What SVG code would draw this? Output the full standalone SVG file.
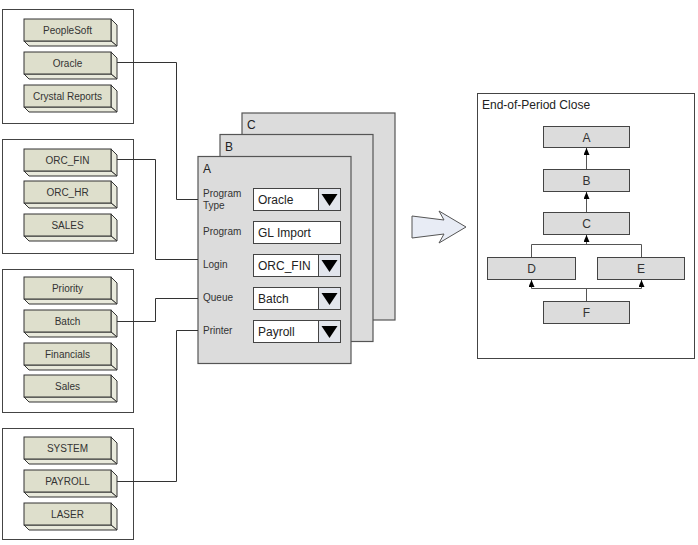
<svg xmlns="http://www.w3.org/2000/svg" width="698" height="545" viewBox="0 0 698 545">
<style>
  .grp{fill:#fff;stroke:#444;stroke-width:1}
  .face{fill:#dedfcc;stroke:#333;stroke-width:1}
  .side{fill:#e9eadc;stroke:#333;stroke-width:1;stroke-linejoin:round}
  .bt{font-family:"Liberation Sans",Arial,sans-serif;font-size:10px;fill:#333;text-anchor:middle}
  .panel{fill:#dcdcdc;stroke:#555;stroke-width:1.2}
  .pl{font-family:"Liberation Sans",Arial,sans-serif;font-size:12px;fill:#222}
  .lab{font-family:"Liberation Sans",Arial,sans-serif;font-size:10px;fill:#333}
  .fld{fill:#fff;stroke:#444;stroke-width:1}
  .dd{fill:#e2e5ec;stroke:#444;stroke-width:1}
  .ft{font-family:"Liberation Sans",Arial,sans-serif;font-size:12px;fill:#222}
  .conn{fill:none;stroke:#333;stroke-width:1}
  .fbox{fill:#dcdcdc;stroke:#444;stroke-width:1}
  .fl{fill:none;stroke:#555;stroke-width:1}
  .ftxt{font-family:"Liberation Sans",Arial,sans-serif;font-size:12px;fill:#333;text-anchor:middle}
</style>
<defs>
  <g id="btn">
    <polygon class="side" points="87,0 93,6 93,27 87,22"/>
    <polygon class="side" points="0,22 87,22 93,27 5,27"/>
    <rect class="face" x="0" y="0" width="87" height="22"/>
  </g>
  <polygon id="tri" points="0,0 16,0 8,12" fill="#000"/>
  <marker id="ah" markerWidth="7" markerHeight="6" refX="7" refY="3" orient="auto" markerUnits="userSpaceOnUse" viewBox="0 0 7 6">
    <path d="M0,0 L7,3 L0,6 Z" fill="#000"/>
  </marker>
</defs>

<!-- Group 1 -->
<g id="group-apps">
  <rect class="grp" x="2.5" y="9.5" width="131" height="114"/>
  <g id="peoplesoft"><use href="#btn" x="24" y="19"/><text class="bt" x="67.5" y="34">PeopleSoft</text></g>
  <g id="oracle"><use href="#btn" x="24" y="52"/><text class="bt" x="67.5" y="67">Oracle</text></g>
  <g id="crystal"><use href="#btn" x="24" y="85"/><text class="bt" x="67.5" y="100">Crystal Reports</text></g>
</g>

<!-- Group 2 -->
<g id="group-logins">
  <rect class="grp" x="2.5" y="139.5" width="131" height="114"/>
  <g id="orc-fin"><use href="#btn" x="24" y="149"/><text class="bt" x="67.5" y="164">ORC_FIN</text></g>
  <g id="orc-hr"><use href="#btn" x="24" y="181"/><text class="bt" x="67.5" y="196">ORC_HR</text></g>
  <g id="sales-login"><use href="#btn" x="24" y="214"/><text class="bt" x="67.5" y="229">SALES</text></g>
</g>

<!-- Group 3 -->
<g id="group-queues">
  <rect class="grp" x="2.5" y="269.5" width="131" height="143"/>
  <g id="priority"><use href="#btn" x="24" y="277"/><text class="bt" x="67.5" y="292">Priority</text></g>
  <g id="batch"><use href="#btn" x="24" y="310"/><text class="bt" x="67.5" y="325">Batch</text></g>
  <g id="financials"><use href="#btn" x="24" y="343"/><text class="bt" x="67.5" y="358">Financials</text></g>
  <g id="sales-queue"><use href="#btn" x="24" y="375"/><text class="bt" x="67.5" y="390">Sales</text></g>
</g>

<!-- Group 4 -->
<g id="group-printers">
  <rect class="grp" x="2.5" y="428.5" width="131" height="111"/>
  <g id="system"><use href="#btn" x="24" y="437"/><text class="bt" x="67.5" y="452">SYSTEM</text></g>
  <g id="payroll"><use href="#btn" x="24" y="470"/><text class="bt" x="67.5" y="485">PAYROLL</text></g>
  <g id="laser"><use href="#btn" x="24" y="503"/><text class="bt" x="67.5" y="518">LASER</text></g>
</g>

<!-- Panels -->
<g id="panel-c">
  <rect class="panel" x="242" y="113" width="153" height="207"/>
  <text class="pl" x="247" y="129">C</text>
</g>
<g id="panel-b">
  <rect class="panel" x="220" y="134.5" width="153" height="207"/>
  <text class="pl" x="225" y="151">B</text>
</g>
<g id="panel-a">
  <rect class="panel" x="198" y="156.5" width="153" height="207"/>
  <text class="pl" x="203" y="173">A</text>
  <text class="lab" x="203" y="197">Program</text>
  <text class="lab" x="203" y="209">Type</text>
  <rect class="fld" x="253.5" y="188.5" width="87" height="22"/>
  <rect class="dd" x="318.5" y="188.5" width="22" height="22"/>
  <use href="#tri" x="321.5" y="194"/>
  <text class="ft" x="258" y="204">Oracle</text>

  <text class="lab" x="203" y="235">Program</text>
  <rect class="fld" x="253.5" y="221.5" width="87" height="22"/>
  <text class="ft" x="258" y="237">GL Import</text>

  <text class="lab" x="203" y="268">Login</text>
  <rect class="fld" x="253.5" y="254.5" width="87" height="22"/>
  <rect class="dd" x="318.5" y="254.5" width="22" height="22"/>
  <use href="#tri" x="321.5" y="260"/>
  <text class="ft" x="258" y="270">ORC_FIN</text>

  <text class="lab" x="203" y="301">Queue</text>
  <rect class="fld" x="253.5" y="287.5" width="87" height="22"/>
  <rect class="dd" x="318.5" y="287.5" width="22" height="22"/>
  <use href="#tri" x="321.5" y="293"/>
  <text class="ft" x="258" y="303">Batch</text>

  <text class="lab" x="203" y="334">Printer</text>
  <rect class="fld" x="253.5" y="320.5" width="87" height="22"/>
  <rect class="dd" x="318.5" y="320.5" width="22" height="22"/>
  <use href="#tri" x="321.5" y="326"/>
  <text class="ft" x="258" y="336">Payroll</text>
</g>

<!-- Connectors -->
<g id="connectors">
  <polyline class="conn" points="117,62.5 176.5,62.5 176.5,199.5 198,199.5"/>
  <polyline class="conn" points="117,159.5 155.5,159.5 155.5,259.5 198,259.5"/>
  <polyline class="conn" points="117,321.5 155.5,321.5 155.5,298.5 198,298.5"/>
  <polyline class="conn" points="117,481.5 176.5,481.5 176.5,330.5 198,330.5"/>
</g>

<!-- Big arrow -->
<g id="big-arrow">
  <polygon points="412,216 444,220 439,211 466,227 439,243 444,234 412,238" fill="#e8ecf5" stroke="#555" stroke-width="1" stroke-linejoin="miter"/>
</g>

<!-- End-of-Period Close -->
<g id="end-of-period">
  <rect class="grp" x="477.5" y="93.5" width="217" height="265"/>
  <text class="pl" x="482" y="109">End-of-Period Close</text>
</g>
<g id="flow-a"><rect class="fbox" x="543.5" y="126.5" width="86" height="21"/><text class="ftxt" x="586.5" y="142">A</text></g>
<g id="flow-b"><rect class="fbox" x="543.5" y="169.5" width="86" height="22"/><text class="ftxt" x="586.5" y="185">B</text></g>
<g id="flow-c"><rect class="fbox" x="543.5" y="212.5" width="86" height="22"/><text class="ftxt" x="586.5" y="228">C</text></g>
<g id="flow-d"><rect class="fbox" x="487.5" y="257.5" width="88" height="22"/><text class="ftxt" x="531.5" y="273">D</text></g>
<g id="flow-e"><rect class="fbox" x="597.5" y="257.5" width="87" height="22"/><text class="ftxt" x="641" y="273">E</text></g>
<g id="flow-f"><rect class="fbox" x="543.5" y="301.5" width="86" height="22"/><text class="ftxt" x="586.5" y="317">F</text></g>
<g id="flow-connectors">
  <line class="fl" x1="586.5" y1="169" x2="586.5" y2="148" marker-end="url(#ah)"/>
  <line class="fl" x1="586.5" y1="212" x2="586.5" y2="192" marker-end="url(#ah)"/>
  <polyline class="fl" points="531.5,257 531.5,244.5 641.5,244.5 641.5,257"/>
  <line class="fl" x1="586.5" y1="244.5" x2="586.5" y2="235" marker-end="url(#ah)"/>
  <line class="fl" x1="586.5" y1="301" x2="586.5" y2="288.5"/>
  <line class="fl" x1="531.5" y1="288.5" x2="641.5" y2="288.5"/>
  <line class="fl" x1="531.5" y1="288.5" x2="531.5" y2="280" marker-end="url(#ah)"/>
  <line class="fl" x1="641.5" y1="288.5" x2="641.5" y2="280" marker-end="url(#ah)"/>
</g>
</svg>
